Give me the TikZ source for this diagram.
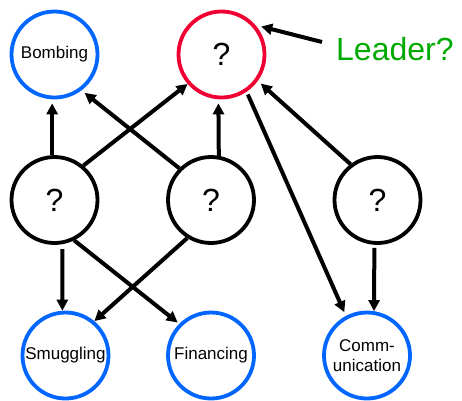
\documentclass[tikz,border=0pt]{standalone}
\usepackage{fontspec}
\setmainfont{Liberation Sans}
\usetikzlibrary{arrows.meta}
\definecolor{nblue}{RGB}{0,102,255}
\definecolor{nred}{RGB}{240,0,50}
\definecolor{lgreen}{RGB}{0,170,0}
\tikzset{
  circ/.style={circle, draw, line width=3.8pt, minimum size=86pt, inner sep=0pt, align=center, font=\fontsize{17}{20}\selectfont},
  qcirc/.style={circ, font=\fontsize{32}{36}\selectfont},
  act/.style={circ, draw=nblue},
  arr/.style={line width=4pt, -{Triangle[length=11pt,width=11pt]}},
}
\begin{document}
\begin{tikzpicture}[x=1pt,y=-1pt]
\useasboundingbox (0,0) rectangle (462,400);
\node[act] (bomb) at (54.5,54.5) {Bombing};
\node[qcirc, draw=nred] (lead) at (221.5,54.5) {?};
\node[qcirc] (q1) at (54.5,200) {?};
\node[qcirc] (q2) at (211,200) {?};
\node[qcirc] (q3) at (377.5,200) {?};
\node[act] (smug) at (65.5,355.5) {Smuggling};
\node[act] (fin) at (211,355.5) {Financing};
\node[act] (comm) at (367,355.5) {Comm-\\unication};
\node[anchor=base west, inner sep=0pt, text=lgreen, font=\fontsize{32}{36}\selectfont] (lab) at (336,60) {Leader?};
\coordinate (ls) at (322,42);
\draw[arr, shorten >=4pt] (q1.93.6) -- (bomb.-93.6);
\draw[arr, shorten >=4pt] (q2.135) -- (bomb.-53);
\draw[arr] (q1.50) -- (lead.-139.5);
\draw[arr, shorten >=4pt] (q2.80.7) -- (lead.-94.1);
\draw[arr, shorten <=3pt, shorten >=4pt] (lead.-56.5) -- (comm.118.9);
\draw[arr, shorten >=4pt] (q3.127) -- (lead.-36);
\draw[arr, shorten <=3pt] (q3.-94.5) -- (comm.81.1);
\draw[arr, shorten <=5pt] (q1.-80.8) -- (smug.94.8);
\draw[arr, shorten >=2pt] (q1.-64.8) -- (fin.135.4);
\draw[arr] (q2.-122.4) -- (smug.50.6);
\draw[arr, shorten >=6pt] (ls) -- (lead.41.9);
\end{tikzpicture}
\end{document}
